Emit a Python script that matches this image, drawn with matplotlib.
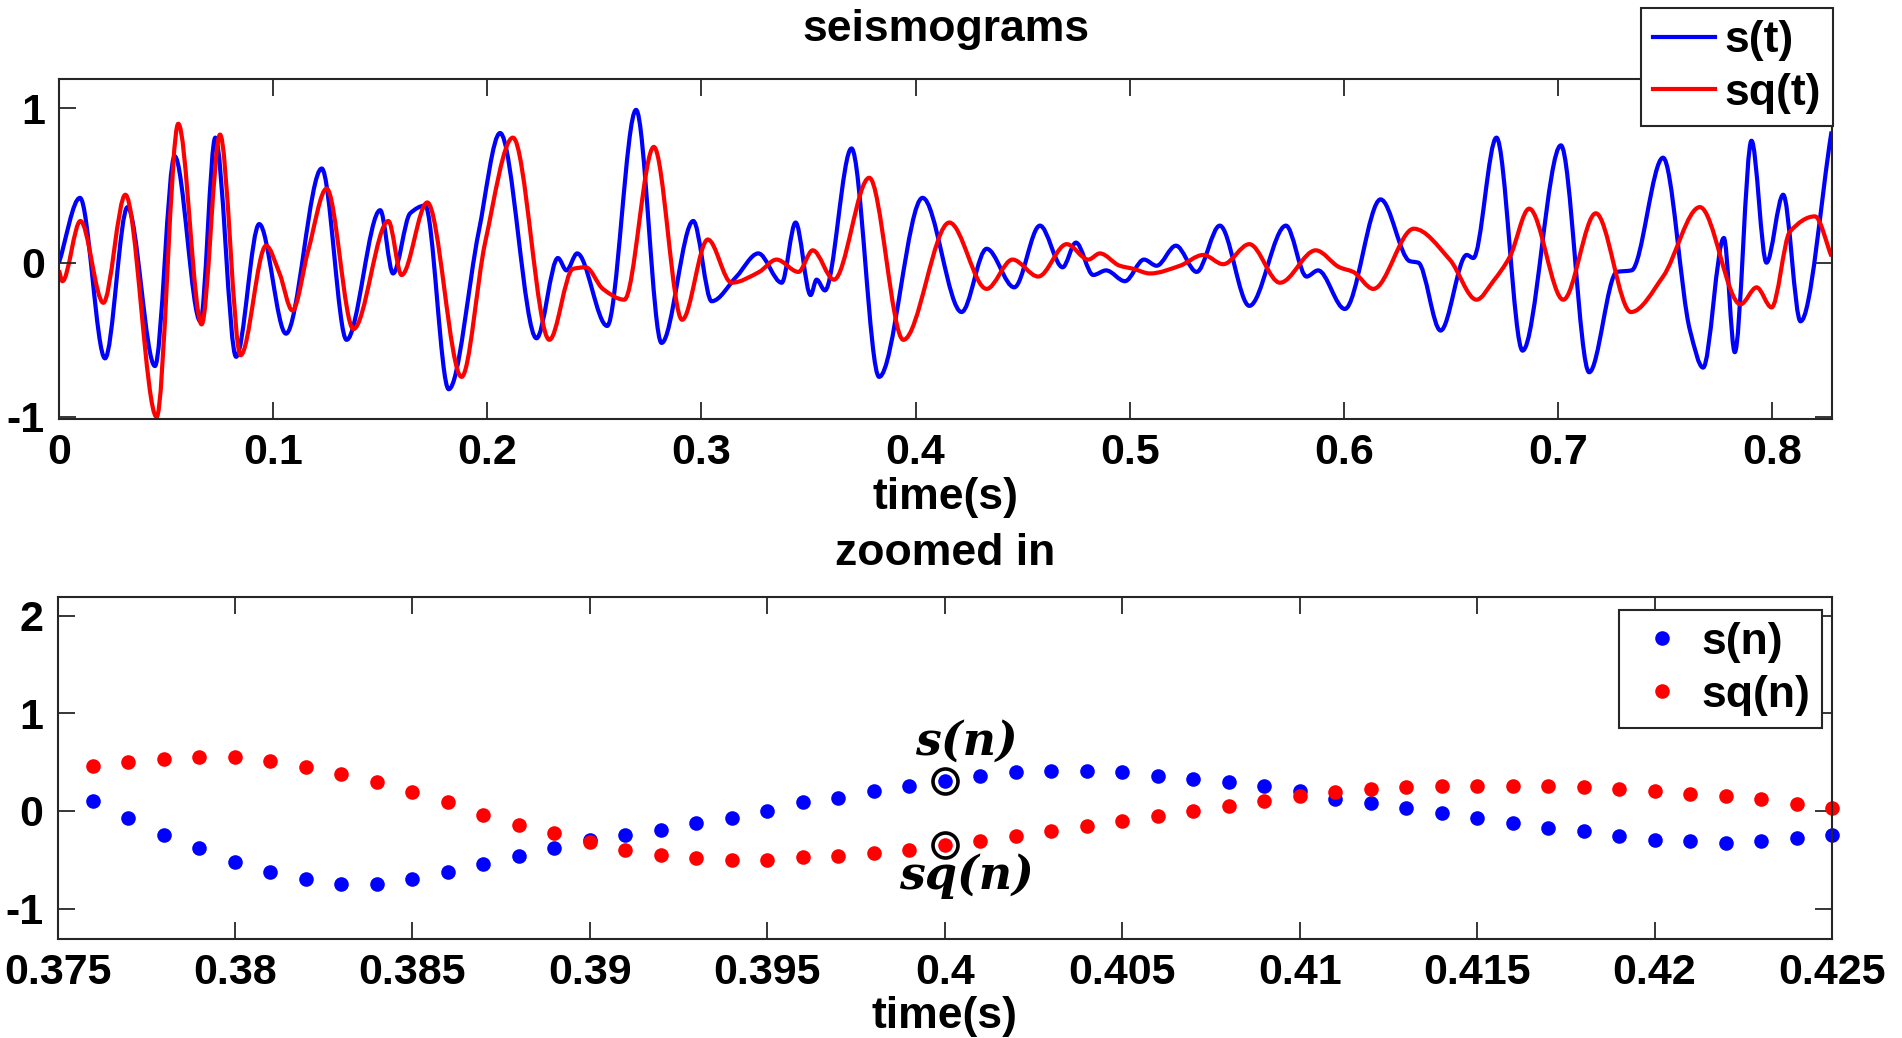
import numpy as np
import matplotlib
matplotlib.use('Agg')
import matplotlib.pyplot as plt
from matplotlib.path import Path
from matplotlib.patches import PathPatch
from matplotlib.lines import Line2D

plt.rcParams['font.family'] = ['Liberation Sans', 'DejaVu Sans']
plt.rcParams['font.weight'] = 'bold'
plt.rcParams['axes.unicode_minus'] = False

# seismogram s(t): points
t_s = [0.0, 0.0098, 0.0215, 0.032, 0.0448, 0.054, 0.066, 0.073, 0.0827, 0.0935,
       0.106, 0.1227, 0.1343, 0.150, 0.156, 0.164, 0.171, 0.182, 0.196, 0.206,
       0.223, 0.233, 0.237, 0.242, 0.256, 0.2695, 0.2814, 0.2962, 0.3048, 0.3164,
       0.3266, 0.3375, 0.344, 0.351, 0.3538, 0.3577, 0.3701, 0.383, 0.4033, 0.4215,
       0.4332, 0.4461, 0.4581, 0.4687, 0.4749, 0.483, 0.489, 0.4978, 0.5067, 0.5126,
       0.5216, 0.5313, 0.5421, 0.5559, 0.573, 0.5826, 0.588, 0.6005, 0.6172, 0.6308,
       0.6348, 0.6452, 0.6574, 0.6605, 0.6713, 0.6835, 0.7014, 0.7146, 0.7275, 0.7344,
       0.7491, 0.7617, 0.7678, 0.7775, 0.7826, 0.7904, 0.7974, 0.8052, 0.8133, 0.8278]
s_t = [0.0, 0.42, -0.62, 0.36, -0.67, 0.69, -0.38, 0.81, -0.61, 0.25,
       -0.46, 0.61, -0.50, 0.34, -0.07, 0.32, 0.37, -0.82, 0.20, 0.84,
       -0.49, 0.03, -0.05, 0.06, -0.41, 0.99, -0.52, 0.27, -0.25, -0.09,
       0.06, -0.13, 0.26, -0.21, -0.11, -0.18, 0.74, -0.74, 0.42, -0.32,
       0.09, -0.16, 0.24, -0.03, 0.13, -0.08, -0.05, -0.12, 0.02, -0.02,
       0.11, -0.06, 0.24, -0.28, 0.24, -0.09, -0.05, -0.30, 0.41, 0.01,
       0.0, -0.44, 0.05, 0.03, 0.81, -0.57, 0.76, -0.71, -0.06, -0.05,
       0.68, -0.44, -0.68, 0.16, -0.58, 0.79, 0.0, 0.44, -0.38, 0.85]

# quadrature seismogram sq(t)
t_sq = [0.0, 0.0016, 0.010, 0.0207, 0.031, 0.0456, 0.0557, 0.0666, 0.0752, 0.0848,
        0.0967, 0.103, 0.109, 0.1164, 0.125, 0.1375, 0.1538, 0.160, 0.172, 0.188,
        0.199, 0.212, 0.229, 0.240, 0.246, 0.254, 0.264, 0.2778, 0.291, 0.303,
        0.3141, 0.327, 0.3351, 0.3453, 0.352, 0.3619, 0.3784, 0.3943, 0.4158, 0.4332,
        0.4453, 0.4573, 0.4706, 0.4807, 0.4861, 0.4954, 0.5017, 0.5095, 0.5235, 0.5344,
        0.5437, 0.5559, 0.5702, 0.5869, 0.598, 0.6044, 0.6138, 0.6327, 0.6495, 0.662,
        0.6698, 0.6776, 0.6866, 0.7025, 0.7177, 0.7341, 0.7491, 0.7663, 0.7853, 0.7928,
        0.7998, 0.8083, 0.8200, 0.8278]
sq_t = [-0.05, -0.12, 0.27, -0.26, 0.44, -1.0, 0.90, -0.40, 0.83, -0.60,
        0.11, -0.07, -0.31, 0.08, 0.48, -0.43, 0.27, -0.08, 0.39, -0.74,
        0.13, 0.81, -0.50, -0.04, -0.03, -0.17, -0.24, 0.75, -0.37, 0.15,
        -0.13, -0.06, 0.02, -0.06, 0.08, -0.11, 0.55, -0.50, 0.26, -0.17,
        0.02, -0.09, 0.12, 0.02, 0.06, -0.02, -0.04, -0.07, -0.02, 0.05,
        -0.01, 0.12, -0.13, 0.08, -0.03, -0.06, -0.17, 0.22, 0.02, -0.24,
        -0.12, 0.04, 0.35, -0.24, 0.32, -0.32, -0.09, 0.36, -0.27, -0.16,
        -0.29, 0.20, 0.30, 0.04]

# zoomed samples, 1 ms spacing, 0.376 ... 0.425 s
n_time = np.round(np.arange(376, 426) * 0.001, 3)
s_n = [0.106, -0.072, -0.242, -0.379, -0.522, -0.625, -0.693, -0.744, -0.744, -0.693,
       -0.625, -0.539, -0.464, -0.379, -0.300, -0.242, -0.19, -0.123, -0.072, 0.003,
       0.089, 0.133, 0.208, 0.259, 0.311, 0.362, 0.396, 0.413, 0.413, 0.396,
       0.362, 0.328, 0.294, 0.253, 0.202, 0.123, 0.082, 0.031, -0.021, -0.072,
       -0.123, -0.175, -0.209, -0.260, -0.295, -0.312, -0.329, -0.312, -0.277, -0.243]
sq_n = [0.464, 0.498, 0.532, 0.549, 0.553, 0.515, 0.447, 0.379, 0.294, 0.191,
        0.089, -0.038, -0.140, -0.225, -0.321, -0.396, -0.45, -0.481, -0.498, -0.498,
        -0.474, -0.457, -0.430, -0.396, -0.345, -0.311, -0.259, -0.201, -0.157, -0.106,
        -0.055, -0.003, 0.048, 0.099, 0.158, 0.192, 0.226, 0.243, 0.260, 0.260,
        0.260, 0.260, 0.243, 0.226, 0.209, 0.175, 0.151, 0.123, 0.072, 0.031]
mark_time = 0.4

top_xticks = [0, 0.1, 0.2, 0.3, 0.4, 0.5, 0.6, 0.7, 0.8]
top_xlabels = ['0', '0.1', '0.2', '0.3', '0.4', '0.5', '0.6', '0.7', '0.8']
bot_xticks = [0.375, 0.38, 0.385, 0.39, 0.395, 0.4, 0.405, 0.41, 0.415, 0.42, 0.425]
bot_xlabels = ['0.375', '0.38', '0.385', '0.39', '0.395', '0.4', '0.405', '0.41',
               '0.415', '0.42', '0.425']

FS = 31      # tick labels
FL = 32      # titles, axis labels, legends
LW = 3.0
W, H = 1902, 1038
fig = plt.figure(figsize=(W / 100, H / 100), dpi=100)


def smooth_path(x, y):
    # cubic Bezier through the read points, flat at peaks and troughs
    x = np.asarray(x, float)
    y = np.asarray(y, float)
    h = np.diff(x)
    d = np.diff(y) / h
    m = np.zeros_like(y)
    for i in range(1, len(y) - 1):
        if d[i - 1] * d[i] > 0:
            w1 = 2 * h[i] + h[i - 1]
            w2 = h[i] + 2 * h[i - 1]
            m[i] = (w1 + w2) / (w1 / d[i - 1] + w2 / d[i])
    m[0], m[-1] = d[0], d[-1]
    verts = [(x[0], y[0])]
    codes = [Path.MOVETO]
    for i in range(len(h)):
        verts += [(x[i] + h[i] / 3, y[i] + m[i] * h[i] / 3),
                  (x[i + 1] - h[i] / 3, y[i + 1] - m[i + 1] * h[i] / 3),
                  (x[i + 1], y[i + 1])]
        codes += [Path.CURVE4] * 3
    return Path(verts, codes)


def style_axes(ax):
    for sp in ax.spines.values():
        sp.set_color('0.15')
        sp.set_linewidth(1.5)
    ax.tick_params(direction='in', length=12, width=1.3, color='0.15',
                   top=True, right=True, labelsize=FS, pad=10)

# upper panel
ax1 = fig.add_axes([59 / W, 1 - 419 / H, (1832 - 59) / W, (419 - 79) / H])
ax1.add_patch(PathPatch(smooth_path(t_s, s_t), fill=False, edgecolor='b', lw=LW,
                        joinstyle='round'))
ax1.add_patch(PathPatch(smooth_path(t_sq, sq_t), fill=False, edgecolor='r', lw=LW,
                        joinstyle='round'))
ax1.set_xlim(0, 0.828)
ax1.set_ylim(-1.013, 1.19)
ax1.set_xticks(top_xticks)
ax1.set_xticklabels(top_xlabels)
ax1.set_yticks([-1, 0, 1])
ax1.set_yticklabels(['-1', '0', '1'])
style_axes(ax1)
ax1.set_title('seismograms', fontsize=FL, fontweight='bold', pad=27)
ax1.set_xlabel('time(s)', fontsize=FL, fontweight='bold', labelpad=3)
handles = [Line2D([], [], color='b', lw=LW), Line2D([], [], color='r', lw=LW)]
leg1 = ax1.legend(handles, ['s(t)', 'sq(t)'], loc='upper right',
                  bbox_to_anchor=(1833 / W, 1 - 8 / H),
                  bbox_transform=fig.transFigure, borderaxespad=0, fontsize=FL,
                  fancybox=False, framealpha=1, edgecolor='0.15', handlelength=1.4,
                  handletextpad=0.2, borderpad=0.28, labelspacing=0.26)
leg1.get_frame().set_linewidth(1.5)

# lower panel
ax2 = fig.add_axes([57.5 / W, 1 - 939 / H, (1832 - 57.5) / W, (939 - 597) / H])
ax2.plot(n_time, s_n, 'o', color='b', ms=10.5, mew=0, clip_on=False, label='s(n)')
ax2.plot(n_time, sq_n, 'o', color='r', ms=10.5, mew=0, clip_on=False, label='sq(n)')
k = int(np.argmin(np.abs(n_time - mark_time)))
ax2.plot([n_time[k], n_time[k]], [s_n[k], sq_n[k]], 'o', mfc='none', mec='k',
         ms=18, mew=2.6)
ax2.text(n_time[k] + 0.0006, s_n[k] + 0.40, 's(n)', fontsize=33, ha='center',
         va='center', family='DejaVu Serif', style='italic', weight='bold')
ax2.text(n_time[k] + 0.0006, sq_n[k] - 0.32, 'sq(n)', fontsize=33, ha='center',
         va='center', family='DejaVu Serif', style='italic', weight='bold')
ax2.set_xlim(0.375, 0.425)
ax2.set_ylim(-1.31, 2.19)
ax2.set_xticks(bot_xticks)
ax2.set_xticklabels(bot_xlabels)
ax2.set_yticks([-1, 0, 1, 2])
ax2.set_yticklabels(['-1', '0', '1', '2'])
style_axes(ax2)
ax2.set_title('zoomed in', fontsize=FL, fontweight='bold', pad=23)
ax2.set_xlabel('time(s)', fontsize=FL, fontweight='bold', labelpad=2)
leg2 = ax2.legend(loc='upper right', bbox_to_anchor=(1822 / W, 1 - 610 / H),
                  bbox_transform=fig.transFigure, borderaxespad=0, fontsize=FL,
                  fancybox=False, framealpha=1, edgecolor='0.15', numpoints=1,
                  handlelength=1.4, handletextpad=0.2, borderpad=0.26,
                  labelspacing=0.28)
leg2.get_frame().set_linewidth(1.5)

fig.savefig('out.png', dpi=100)
